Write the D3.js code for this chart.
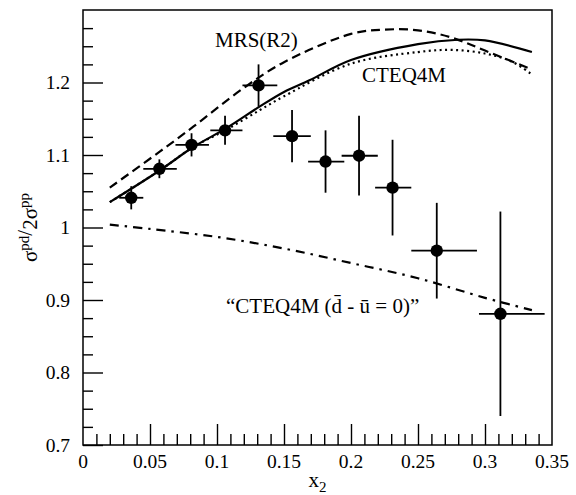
<!DOCTYPE html>
<html>
<head>
<meta charset="utf-8">
<script src="https://cdnjs.cloudflare.com/ajax/libs/d3/7.8.5/d3.min.js"></script>
<style>
  body { margin: 0; background: #fff; }
</style>
</head>
<body>
<div id="chart"></div>
<script>
// data points (x2, ratio) with bin edges and errors
var pointX = [0.036, 0.057, 0.081, 0.106, 0.131, 0.156, 0.181, 0.206, 0.231, 0.264, 0.3115];
var pointY = [1.041, 1.081, 1.114, 1.134, 1.196, 1.126, 1.091, 1.099, 1.055, 0.968, 0.881];
var binLo = [0.027, 0.045, 0.069, 0.095, 0.119, 0.142, 0.168, 0.193, 0.218, 0.245, 0.2955];
var binHi = [0.045, 0.070, 0.094, 0.119, 0.145, 0.170, 0.195, 0.220, 0.245, 0.294, 0.3445];
var yErr = [0.016, 0.013, 0.016, 0.020, 0.029, 0.036, 0.043, 0.055, 0.066, 0.066, 0.141];

// model curves
var cteqX = [0.02, 0.0575, 0.0823, 0.107, 0.132, 0.15, 0.169, 0.2, 0.25, 0.28, 0.3, 0.335];
var cteqY = [1.035, 1.079, 1.111, 1.137, 1.167, 1.187, 1.203, 1.231, 1.253, 1.259, 1.258, 1.242];
var mrsX = [0.02, 0.0575, 0.0823, 0.1196, 0.15, 0.2, 0.225, 0.25, 0.275, 0.3, 0.335];
var mrsY = [1.055, 1.105, 1.139, 1.192, 1.228, 1.267, 1.273, 1.272, 1.262, 1.244, 1.218];
var dotX = [0.02, 0.0575, 0.0823, 0.107, 0.132, 0.15, 0.2, 0.25, 0.275, 0.3, 0.32, 0.335];
var dotY = [1.035, 1.079, 1.111, 1.135, 1.162, 1.181, 1.226, 1.242, 1.245, 1.240, 1.229, 1.211];
var symX = [0.02, 0.05, 0.1, 0.15, 0.2, 0.25, 0.3, 0.335];
var symY = [1.004, 0.998, 0.987, 0.971, 0.951, 0.930, 0.903, 0.886];

var xMajor = [0.05, 0.1, 0.15, 0.2, 0.25, 0.3];
var xLabels = ['0', '0.05', '0.1', '0.15', '0.2', '0.25', '0.3', '0.35'];
var yLabels = ['0.7', '0.8', '0.9', '1', '1.1', '1.2'];

var width = 576, height = 495;
var margin = {left: 83, right: 24, top: 10, bottom: 50};

var svg = d3.select('#chart').append('svg')
    .attr('width', width)
    .attr('height', height)
    .style('font-family', '"Liberation Serif", "Times New Roman", serif');

var x = d3.scaleLinear().domain([0, 0.35]).range([margin.left, width - margin.right]);
var y = d3.scaleLinear().domain([0.7, 1.3]).range([height - margin.bottom, margin.top]);

var xMinor = d3.range(1, 35).map(function(i) { return i / 100; })
    .filter(function(v) { return Math.round(v * 100) % 5 != 0; });
var yMinor = d3.range(0, 25).map(function(i) { return 0.7 + i * 0.025; })
    .filter(function(v, i) { return i % 4 != 0; });
var yMajor = yLabels.map(Number);

// frame
svg.append('rect')
    .attr('x', x(0))
    .attr('y', y(1.3))
    .attr('width', x(0.35) - x(0))
    .attr('height', y(0.7) - y(1.3))
    .attr('fill', 'none')
    .attr('stroke', 'black')
    .attr('stroke-width', 1.5);

function tickAxis(axis, vals, size, tr) {
    var g = svg.append('g')
        .attr('transform', tr)
        .call(axis.tickValues(vals).tickSize(-size).tickFormat(''));
    g.select('.domain').remove();
    g.selectAll('.tick line').attr('stroke', 'black').attr('stroke-width', 1.4);
    return g;
}

tickAxis(d3.axisBottom(x), xMinor, 11, 'translate(0,' + y(0.7) + ')');
tickAxis(d3.axisBottom(x), xMajor, 21, 'translate(0,' + y(0.7) + ')');
tickAxis(d3.axisLeft(y), yMinor, 10, 'translate(' + x(0) + ',0)');
tickAxis(d3.axisLeft(y), yMajor, 20, 'translate(' + x(0) + ',0)');

// tick labels
svg.append('g').selectAll('text')
    .data(xLabels)
    .join('text')
    .attr('x', function(d) { return x(+d); })
    .attr('y', 468)
    .attr('text-anchor', 'middle')
    .style('font-size', '19.5px')
    .text(function(d) { return d; });

svg.append('g').selectAll('text')
    .data(yLabels)
    .join('text')
    .attr('x', 70)
    .attr('y', function(d) { return y(+d); })
    .attr('dy', '0.35em')
    .attr('text-anchor', 'end')
    .style('font-size', '19.5px')
    .text(function(d) { return d; });

// axis titles
var xt = svg.append('text')
    .attr('x', (x(0) + x(0.35)) / 2)
    .attr('y', 487)
    .attr('text-anchor', 'middle')
    .style('font-size', '21px');
xt.append('tspan').text('x');
xt.append('tspan').attr('dy', 5).style('font-size', '15px').text('2');

var yt = svg.append('text')
    .attr('transform', 'translate(37,' + ((y(0.7) + y(1.3)) / 2) + ') rotate(-90)')
    .attr('text-anchor', 'middle')
    .style('font-size', '21px');
yt.append('tspan').text('σ');
yt.append('tspan').attr('dy', -8).style('font-size', '15px').text('pd');
yt.append('tspan').attr('dy', 3).text('/');
yt.append('tspan').attr('dy', 5).text('2σ');
yt.append('tspan').attr('dy', -8).style('font-size', '15px').text('pp');

// curves
var line = d3.line()
    .x(function(d) { return x(d[0]); })
    .y(function(d) { return y(d[1]); })
    .curve(d3.curveCatmullRom.alpha(0.5));

function drawCurve(xs, ys, dash) {
    svg.append('path')
        .attr('d', line(d3.zip(xs, ys)))
        .attr('fill', 'none')
        .attr('stroke', 'black')
        .attr('stroke-width', 2.2)
        .attr('stroke-dasharray', dash);
}

drawCurve(mrsX, mrsY, '9,5');
drawCurve(dotX, dotY, '2,3.5');
drawCurve(cteqX, cteqY, null);
drawCurve(symX, symY, '9,6,2.5,6');

// data with error bars
var pts = d3.range(pointX.length);
var eb = svg.append('g').attr('stroke', 'black').attr('stroke-width', 1.8);
eb.selectAll('line.h')
    .data(pts)
    .join('line')
    .attr('class', 'h')
    .attr('x1', function(i) { return x(binLo[i]); })
    .attr('x2', function(i) { return x(binHi[i]); })
    .attr('y1', function(i) { return y(pointY[i]); })
    .attr('y2', function(i) { return y(pointY[i]); });
eb.selectAll('line.v')
    .data(pts)
    .join('line')
    .attr('class', 'v')
    .attr('x1', function(i) { return x(pointX[i]); })
    .attr('x2', function(i) { return x(pointX[i]); })
    .attr('y1', function(i) { return y(pointY[i] - yErr[i]); })
    .attr('y2', function(i) { return y(pointY[i] + yErr[i]); });

svg.append('g').selectAll('circle')
    .data(pts)
    .join('circle')
    .attr('cx', function(i) { return x(pointX[i]); })
    .attr('cy', function(i) { return y(pointY[i]); })
    .attr('r', 6.2)
    .attr('fill', 'black');

// curve labels
svg.append('text')
    .attr('x', 215)
    .attr('y', 47)
    .style('font-size', '21px')
    .text('MRS(R2)');

svg.append('text')
    .attr('x', 362)
    .attr('y', 82)
    .style('font-size', '21px')
    .text('CTEQ4M');

svg.append('text')
    .attr('x', 226)
    .attr('y', 313)
    .style('font-size', '21px')
    .text('\u201CCTEQ4M (d\u0304 - \u016B = 0)\u201D');
</script>
</body>
</html>
